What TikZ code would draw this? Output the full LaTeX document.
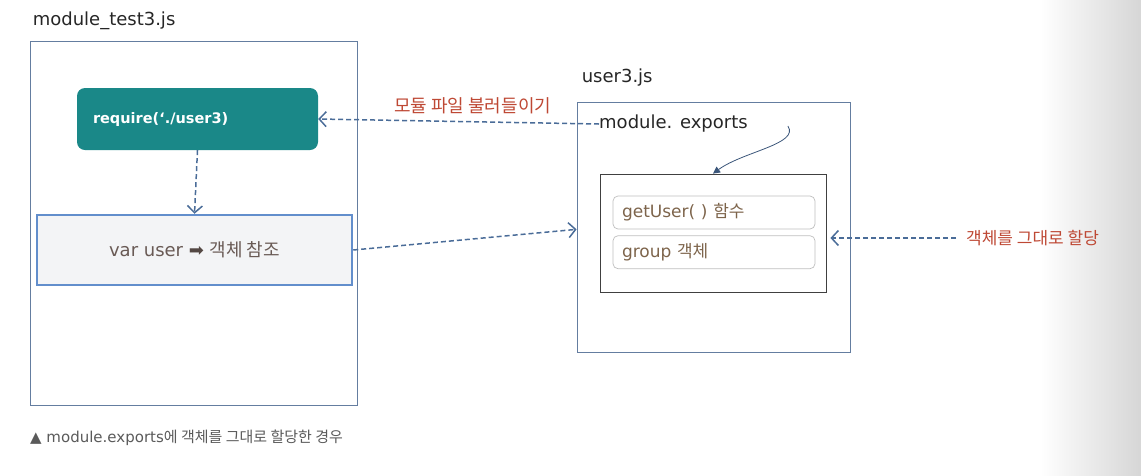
\documentclass[tikz,border=0pt]{standalone}
\usepackage{fontspec}
\setmainfont{DejaVu Sans}
\newfontfamily\kr{Noto Sans CJK KR}
\newcommand{\hg}[1]{{\kr #1}}
\usepackage{tikz}
\usetikzlibrary{arrows.meta}
\usetikzlibrary{positioning}

\definecolor{tealbox}{RGB}{26,136,136}
\definecolor{varborder}{RGB}{98,142,204}
\definecolor{varfill}{RGB}{243,244,246}
\definecolor{vartext}{RGB}{105,90,85}
\definecolor{dasharrow}{RGB}{74,108,152}
\definecolor{framecol}{RGB}{100,125,160}
\definecolor{notecol}{RGB}{190,72,52}
\definecolor{itemtext}{RGB}{125,100,75}
\definecolor{itemborder}{RGB}{190,190,190}
\definecolor{captioncol}{RGB}{90,90,90}

\tikzset{
    filebox/.style={draw=framecol, line width=0.8pt},
    filelabel/.style={inner sep=0pt, font=\fontsize{18}{20}\selectfont, text=black!85},
    reqbox/.style={fill=tealbox, rounded corners=8pt, text=white,
        font=\bfseries\fontsize{14.5}{16}\selectfont,
        minimum height=62pt, text width=209pt, inner xsep=16pt, align=left},
    varbox/.style={draw=varborder, line width=2.5pt, fill=varfill, text=vartext,
        font=\fontsize{18}{20}\selectfont, minimum width=315pt, minimum height=70pt},
    objbox/.style={draw=black!75, line width=0.8pt},
    itembox/.style={draw=itemborder, line width=0.7pt, rounded corners=5pt,
        text=itemtext, font=\fontsize{17}{19}\selectfont,
        minimum height=33pt, text width=184pt, inner xsep=9pt, align=left},
    notelabel/.style={inner sep=0pt, text=notecol, font=\fontsize{18}{20}\selectfont},
    link/.style={->, draw=dasharrow, line width=1.5pt, dash pattern=on 5pt off 3pt},
    bendlink/.style={-{Triangle[length=7pt,width=7pt]}, draw=dasharrow!80!black, line width=0.8pt},
}

\begin{document}
\begin{tikzpicture}[>={Straight Barb[length=7pt,width=15pt]}, x=1pt, y=-1pt]

    % page
    \useasboundingbox (0,0) rectangle (1141,475);
    \shade[left color=white, right color=black!16] (1040,0) rectangle (1141,475);

    % module_test3.js
    \node[filebox, minimum width=327pt, minimum height=364pt] (testfile) at (193.5,223) {};
    \node[filelabel, above right=11pt and 3pt of testfile.north west] (testname) {module\_test3.js};
    \node[reqbox] (require) at (197.5,119) {require(‘./user3)};
    \node[varbox] (varuser) at (194.5,250) {var user \textcolor{vartext!80!black}{➡} \hg{객체 참조}};

    % user3.js
    \node[filebox, minimum width=273pt, minimum height=250pt] (userfile) at (713.5,227) {};
    \node[filelabel, above right=15pt and 5pt of userfile.north west] (username) {user3.js};
    \node[filelabel, anchor=west] (exports) at (599,124) {module. exports};
    \node[objbox, minimum width=226pt, minimum height=118pt] (object) at (713,233) {};
    \node[itembox] (getuser) at (714,212.5) {getUser( ) \hg{함수}};
    \node[itembox, below=6pt of getuser] (group) {group \hg{객체}};

    % notes
    \node[notelabel, anchor=west, font=\fontsize{17}{19}\selectfont] (assign) at (966,238) {\hg{객체를 그대로 할당}};
    \node[inner sep=0pt, anchor=west, text=captioncol, font=\fontsize{15}{17}\selectfont] (caption) at (30,438)
        {▲ module.exports\hg{에 객체를 그대로 할당한 경우}};

    % Relationships
    \draw[link] (exports.west) -- node[notelabel, pos=0.45, above=7pt] (loadlbl) {\hg{모듈 파일 불러들이기}} (require.east);
    \draw[link] (require.south) -- (varuser.north);
    \draw[link] (varuser.east) -- (userfile.west |- getuser.south);
    \draw[link, shorten >=4pt, shorten <=10pt] (assign.west) -- (object.east |- assign.west);
    \coordinate (bendstart) at ([xshift=40pt,yshift=-2pt]exports.east);
    \draw[bendlink] (bendstart) .. controls +(12pt,-18pt) and +(30pt,22pt) .. (object.north);

\end{tikzpicture}
\end{document}
